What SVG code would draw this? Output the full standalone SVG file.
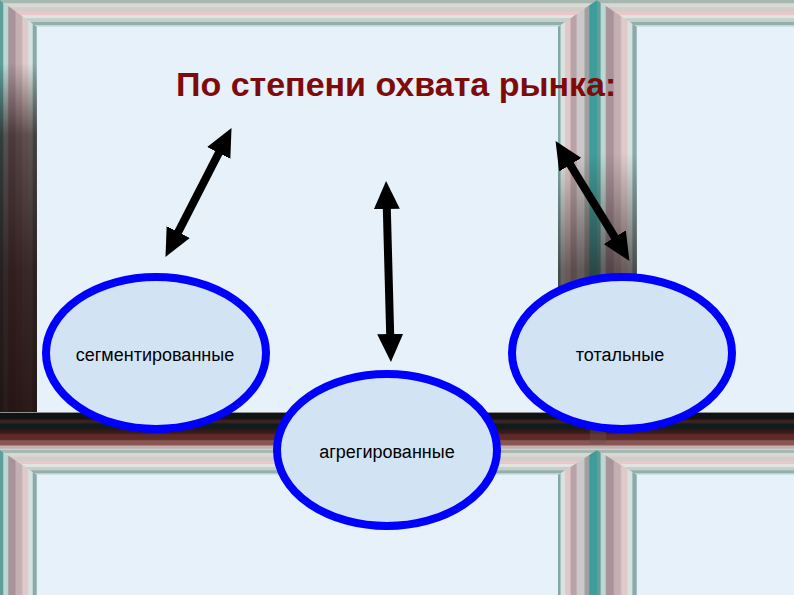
<svg xmlns="http://www.w3.org/2000/svg" width="794" height="595" viewBox="0 0 794 595">
<style>
.panel{fill:#E6F1F9}
.lbl{font-family:"Liberation Sans",Arial,sans-serif;font-size:18px;fill:#000;text-anchor:middle}
.title{font-family:"Liberation Sans",Arial,sans-serif;font-size:34px;font-weight:bold;fill:#7F0A0A}
.node ellipse{fill:#D2E4F4;stroke:#0000FF;stroke-width:8}
.conn line{stroke:#000;stroke-width:8;marker-start:url(#head);marker-end:url(#head)}
</style>
<defs>
<linearGradient id="gL" x1="0" y1="0" x2="1" y2="0">
<stop offset="0" stop-color="#5E9F9C"/>
<stop offset="0.08" stop-color="#5E9F9C"/>
<stop offset="0.1" stop-color="#BCD8D3"/>
<stop offset="0.2" stop-color="#BCD8D3"/>
<stop offset="0.24" stop-color="#A8939A"/>
<stop offset="0.4" stop-color="#A8939A"/>
<stop offset="0.44" stop-color="#C4B0B3"/>
<stop offset="0.58" stop-color="#C4B0B3"/>
<stop offset="0.62" stop-color="#DFC9C9"/>
<stop offset="0.74" stop-color="#DFC9C9"/>
<stop offset="0.78" stop-color="#D6E2E0"/>
<stop offset="0.87" stop-color="#D6E2E0"/>
<stop offset="0.9" stop-color="#8AA9A8"/>
<stop offset="0.97" stop-color="#8AA9A8"/>
<stop offset="1" stop-color="#B8CFD0"/>
</linearGradient>
<linearGradient id="gR" x1="1" y1="0" x2="0" y2="0">
<stop offset="0" stop-color="#3F9C9A"/>
<stop offset="0.18" stop-color="#3F9C9A"/>
<stop offset="0.22" stop-color="#A0A0A0"/>
<stop offset="0.3" stop-color="#A0A0A0"/>
<stop offset="0.34" stop-color="#CCC8C8"/>
<stop offset="0.5" stop-color="#CCC8C8"/>
<stop offset="0.54" stop-color="#B8A4A8"/>
<stop offset="0.66" stop-color="#B8A4A8"/>
<stop offset="0.7" stop-color="#E0C8C8"/>
<stop offset="0.8" stop-color="#E0C8C8"/>
<stop offset="0.84" stop-color="#D9E3E0"/>
<stop offset="0.92" stop-color="#D9E3E0"/>
<stop offset="0.95" stop-color="#7FA8A6"/>
<stop offset="1" stop-color="#7FA8A6"/>
</linearGradient>
<linearGradient id="gT" x1="0" y1="0" x2="0" y2="1">
<stop offset="0" stop-color="#A7B8B3"/>
<stop offset="0.1" stop-color="#A7B8B3"/>
<stop offset="0.14" stop-color="#D8D8D4"/>
<stop offset="0.25" stop-color="#D8D8D4"/>
<stop offset="0.28" stop-color="#D4CCC9"/>
<stop offset="0.42" stop-color="#D4CCC9"/>
<stop offset="0.46" stop-color="#E8C9CB"/>
<stop offset="0.55" stop-color="#E8C9CB"/>
<stop offset="0.58" stop-color="#E3E3E0"/>
<stop offset="0.66" stop-color="#E3E3E0"/>
<stop offset="0.69" stop-color="#C6CFCC"/>
<stop offset="0.8" stop-color="#C6CFCC"/>
<stop offset="0.83" stop-color="#8FB0AD"/>
<stop offset="0.92" stop-color="#8FB0AD"/>
<stop offset="0.95" stop-color="#CFE0E0"/>
<stop offset="1" stop-color="#CFE0E0"/>
</linearGradient>
<linearGradient id="gB" x1="0" y1="412" x2="0" y2="450" gradientUnits="userSpaceOnUse">
<stop offset="0" stop-color="#F0F4F4"/>
<stop offset="0.03" stop-color="#121212"/>
<stop offset="0.18" stop-color="#121212"/>
<stop offset="0.22" stop-color="#3A2222"/>
<stop offset="0.28" stop-color="#3A2222"/>
<stop offset="0.32" stop-color="#0E1C1C"/>
<stop offset="0.42" stop-color="#0E1C1C"/>
<stop offset="0.46" stop-color="#2E1616"/>
<stop offset="0.56" stop-color="#3E1C1C"/>
<stop offset="0.6" stop-color="#5E2A28"/>
<stop offset="0.72" stop-color="#5E2A28"/>
<stop offset="0.76" stop-color="#8A5654"/>
<stop offset="0.86" stop-color="#8A5654"/>
<stop offset="0.9" stop-color="#C4B0B0"/>
<stop offset="0.95" stop-color="#C4B0B0"/>
<stop offset="1" stop-color="#D0DCDC"/>
</linearGradient>
<linearGradient id="shadeL" x1="0" y1="0" x2="0" y2="1">
<stop offset="0" stop-color="#1C0A0A" stop-opacity="0"/>
<stop offset="0.14" stop-color="#1C0A0A" stop-opacity="0"/>
<stop offset="0.3" stop-color="#1C0A0A" stop-opacity="0.65"/>
<stop offset="0.6" stop-color="#1C0A0A" stop-opacity="0.85"/>
<stop offset="1" stop-color="#1C0A0A" stop-opacity="0.94"/>
</linearGradient>
<linearGradient id="shadeD" x1="0" y1="0" x2="0" y2="1">
<stop offset="0" stop-color="#1C1010" stop-opacity="0"/>
<stop offset="0.34" stop-color="#1C1010" stop-opacity="0"/>
<stop offset="0.6" stop-color="#1C1010" stop-opacity="0.6"/>
<stop offset="1" stop-color="#1C1010" stop-opacity="0.75"/>
</linearGradient>
<marker id="head" markerUnits="userSpaceOnUse" viewBox="0 0 28 26" markerWidth="28" markerHeight="26" refX="1" refY="13" orient="auto-start-reverse">
<path d="M0,0 L28,13 L0,26 Z" fill="#000"/>
</marker>
</defs>

<g id="background">
<rect x="0" y="0" width="794" height="595" fill="#D8D8D4"/>
<rect class="panel" x="37" y="27" width="521" height="385"/>
<rect class="panel" x="637" y="27" width="157" height="385"/>
<rect class="panel" x="37" y="475" width="521" height="120"/>
<rect class="panel" x="637" y="475" width="157" height="120"/>
<polygon points="0,0 597,0 558,27 37,27" fill="url(#gT)"/>
<polygon points="0,0 37,27 37,412 0,450" fill="url(#gL)"/>
<polygon points="597,0 597,450 558,412 558,27" fill="url(#gR)"/>
<polygon points="597,0 900,0 900,27 637,27" fill="url(#gT)"/>
<polygon points="597,0 637,27 637,412 597,450" fill="url(#gL)"/>
<polygon points="0,0 37,27 37,412 0,450" fill="url(#shadeL)"/>
<polygon points="597,0 597,450 558,412 558,27" fill="url(#shadeD)"/>
<polygon points="597,0 637,27 637,412 597,450" fill="url(#shadeD)"/>
<rect x="0" y="412" width="794" height="38" fill="url(#gB)"/>
<rect x="590" y="414" width="16" height="30" fill="#6A5050" opacity="0.4"/>
<polygon points="0,450 597,450 558,475 37,475" fill="url(#gT)"/>
<polygon points="0,450 37,475 37,600 0,600" fill="url(#gL)"/>
<polygon points="597,450 597,600 558,600 558,475" fill="url(#gR)"/>
<polygon points="597,450 900,450 900,475 637,475" fill="url(#gT)"/>
<polygon points="597,450 637,475 637,600 597,600" fill="url(#gL)"/>
</g>

<g id="title">
<text class="title" x="176" y="96">По степени охвата рынка:</text>
</g>

<g id="node-segmented" class="node">
<ellipse cx="156" cy="353" rx="110" ry="76"/>
<text class="lbl" x="155" y="361">сегментированные</text>
</g>
<g id="node-total" class="node">
<ellipse cx="622" cy="353" rx="110" ry="76"/>
<text class="lbl" x="620" y="361">тотальные</text>
</g>
<g id="node-aggregated" class="node">
<ellipse cx="387" cy="450" rx="110" ry="76"/>
<text class="lbl" x="387" y="458">агрегированные</text>
</g>

<g id="connectors" class="conn">
<line x1="219.2" y1="152.1" x2="177.8" y2="232.9"/>
<line x1="386.8" y1="208" x2="390.2" y2="335"/>
<line x1="569.7" y1="163.9" x2="615.3" y2="238.1"/>
</g>
</svg>
